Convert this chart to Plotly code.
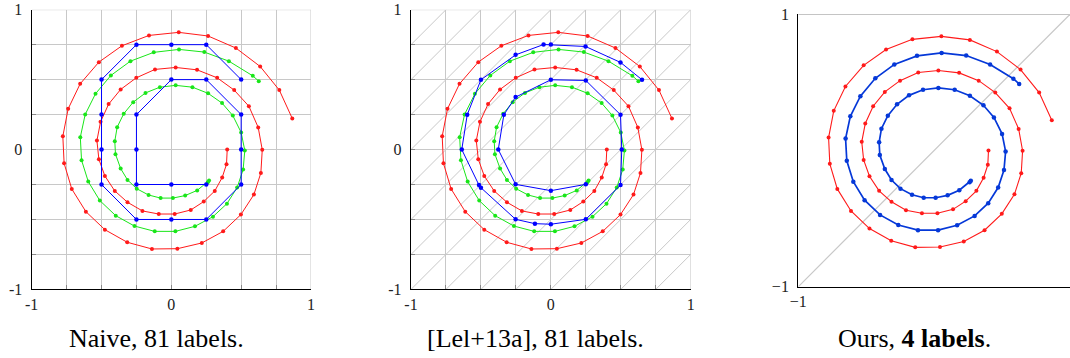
import plotly.graph_objects as go

# ---------------- data ----------------
red_x = [0.866, 0.773, 0.636, 0.462, 0.263, 0.053, -0.160, -0.354, -0.519, -0.653,
         -0.739, -0.777, -0.768, -0.713, -0.612, -0.476, -0.316, -0.139, 0.043, 0.218,
         0.371, 0.498, 0.591, 0.641, 0.651, 0.622, 0.555, 0.450, 0.328, 0.184,
         0.031, -0.117, -0.251, -0.363, -0.449, -0.507, -0.533, -0.519, -0.476, -0.405,
         -0.314, -0.207, -0.090, 0.024, 0.139, 0.232, 0.311, 0.364, 0.395, 0.400]
red_y = [0.222, 0.425, 0.594, 0.726, 0.812, 0.838, 0.816, 0.742, 0.625, 0.470,
         0.291, 0.095, -0.098, -0.282, -0.444, -0.573, -0.663, -0.711, -0.709, -0.668,
         -0.585, -0.465, -0.322, -0.167, -0.002, 0.158, 0.310, 0.425, 0.513, 0.570,
         0.587, 0.573, 0.513, 0.430, 0.325, 0.198, 0.064, -0.069, -0.189, -0.296,
         -0.377, -0.439, -0.461, -0.461, -0.432, -0.372, -0.296, -0.200, -0.105, 0.000]

green_x = [0.626, 0.583, 0.412, 0.236, 0.055, -0.126, -0.293, -0.433, -0.543, -0.617,
           -0.652, -0.643, -0.595, -0.512, -0.398, -0.264, -0.119, 0.029, 0.169, 0.298,
           0.398, 0.471, 0.514, 0.526, 0.500, 0.440, 0.363, 0.263, 0.151, 0.031,
           -0.082, -0.185, -0.273, -0.341, -0.388, -0.405, -0.400, -0.363, -0.314, -0.248,
           -0.163, -0.077, 0.011, 0.099, 0.185, 0.261, 0.270]
green_y = [0.489, 0.527, 0.632, 0.697, 0.716, 0.695, 0.632, 0.530, 0.399, 0.251,
           0.088, -0.076, -0.229, -0.365, -0.473, -0.547, -0.585, -0.585, -0.549, -0.480,
           -0.387, -0.272, -0.143, -0.007, 0.122, 0.243, 0.332, 0.402, 0.446, 0.459,
           0.446, 0.405, 0.339, 0.256, 0.160, 0.060, -0.033, -0.136, -0.217, -0.280,
           -0.325, -0.347, -0.347, -0.329, -0.292, -0.233, -0.222]

naive_x = [0.5, 0.25, 0.0, -0.25, -0.5, -0.5, -0.5, -0.5, -0.25, 0.0, 0.25,
           0.5, 0.5, 0.5, 0.25, 0.0, -0.25, -0.25, -0.25, 0.0, 0.25]
naive_y = [0.5, 0.75, 0.75, 0.75, 0.5, 0.25, 0.0, -0.25, -0.5, -0.5, -0.5,
           -0.25, 0.0, 0.25, 0.5, 0.5, 0.25, 0.0, -0.25, -0.25, -0.25]

lel_x = [0.652, 0.498, 0.248, 0.0, -0.052, -0.252, -0.5, -0.598, -0.637, -0.514,
         -0.5, -0.252, -0.114, 0.0, 0.25, 0.498, 0.507, 0.498, 0.25, 0.0,
         -0.252, -0.336, -0.376, -0.252, 0.0, 0.25]
lel_y = [0.499, 0.623, 0.737, 0.751, 0.751, 0.677, 0.499, 0.249, 0.0, -0.254,
         -0.273, -0.499, -0.530, -0.534, -0.499, -0.254, 0.0, 0.249, 0.494, 0.499,
         0.375, 0.249, 0.0, -0.249, -0.294, -0.249]

grid_vals = [-1, -0.75, -0.5, -0.25, 0, 0.25, 0.5, 0.75, 1]
grid_text = ["-1", "", "", "", "0", "", "", "", "1"]
ours_vals = [-1, 1]
ours_text = ["\u22121", "1"]
diag_offsets = [-1.75, -1.5, -1.25, -1.0, -0.75, -0.5, -0.25, 0.0,
                0.25, 0.5, 0.75, 1.0, 1.25, 1.5, 1.75]
captions = ["Naive, 81 labels.", "[Lel+13a], 81 labels.", "Ours, <b>4 labels</b>."]

# ---------------- figure ----------------
W, H = 1070, 358
RED = "#ff1a1a"
GREEN = "#19e619"
BLUE = "#0000ff"
BLUE3 = "#0538d8"
GRID = "#c8c8c8"
SERIF = "Liberation Serif, Times New Roman, serif"

fig = go.Figure()


def line_trace(x, y, color, lw, ms, xa, ya):
    fig.add_trace(go.Scatter(
        x=x, y=y, mode="lines+markers" if ms else "lines",
        line=dict(color=color, width=lw),
        marker=dict(color=color, size=ms, line=dict(width=0)),
        xaxis=xa, yaxis=ya, showlegend=False, hoverinfo="skip"))


# diagonal grid for panel 2 (lines y = x + c inside the square)
dx, dy = [], []
for c in diag_offsets:
    if c >= 0:
        dx += [-1, 1 - c, None]
        dy += [-1 + c, 1, None]
    else:
        dx += [-1 - c, 1, None]
        dy += [-1, 1 + c, None]
line_trace(dx, dy, GRID, 1, 0, "x2", "y2")
# diagonal for panel 3
line_trace([-1, 1], [-1, 1], GRID, 1.2, 0, "x3", "y3")

# panel 1
line_trace(red_x, red_y, RED, 1, 4, "x", "y")
line_trace(green_x, green_y, GREEN, 1, 4, "x", "y")
line_trace(naive_x, naive_y, BLUE, 1, 4.5, "x", "y")
# panel 2
line_trace(red_x, red_y, RED, 1, 4, "x2", "y2")
line_trace(green_x, green_y, GREEN, 1, 4, "x2", "y2")
line_trace(lel_x, lel_y, BLUE, 1, 4.5, "x2", "y2")
# panel 3
line_trace(red_x, red_y, RED, 1.1, 4, "x3", "y3")
line_trace(green_x, green_y, BLUE3, 1.7, 4.5, "x3", "y3")

tickfont = dict(family=SERIF, size=16, color="#222")


def axis(domain, vals, text, grid, standoff):
    return dict(domain=domain, range=[-1, 1], autorange=False, automargin=False,
                tickmode="array", tickvals=vals, ticktext=text,
                showgrid=grid, gridcolor=GRID, gridwidth=1,
                zeroline=False, showline=True, linecolor="black", linewidth=1.4,
                ticks="inside", ticklen=4, tickcolor="#888", tickwidth=1,
                tickfont=tickfont, ticklabelstandoff=standoff, fixedrange=True)


xd1 = [31.7 / W, 311.0 / W]
xd2 = [411.0 / W, 690.7 / W]
xd3 = [798.3 / W, 1.0]
yd12 = [1 - 289.4 / H, 1 - 9.7 / H]
yd3 = [1 - 286.7 / H, 1 - 14.3 / H]

fig.update_layout(
    template="none",
    width=W, height=H, margin=dict(l=0, r=0, t=0, b=0, autoexpand=False),
    paper_bgcolor="white", plot_bgcolor="white",
    xaxis=dict(axis(xd1, grid_vals, grid_text, True, 0), anchor="y"),
    yaxis=dict(axis(yd12, grid_vals, grid_text, True, 5), anchor="x"),
    xaxis2=dict(axis(xd2, grid_vals, grid_text, True, 0), anchor="y2"),
    yaxis2=dict(axis(yd12, grid_vals, grid_text, True, 5), anchor="x2"),
    xaxis3=dict(axis(xd3, ours_vals, ours_text, False, 0), anchor="y3"),
    yaxis3=dict(axis(yd3, ours_vals, ours_text, False, 5), anchor="x3"),
)

# gray top / right borders
shapes = []
for xa, ya in [("x", "y"), ("x2", "y2")]:
    shapes.append(dict(type="line", xref=xa, yref=ya, x0=-1, x1=1, y0=1, y1=1,
                       line=dict(color=GRID, width=1), layer="below"))
    shapes.append(dict(type="line", xref=xa, yref=ya, x0=1, x1=1, y0=-1, y1=1,
                       line=dict(color=GRID, width=1), layer="below"))
shapes.append(dict(type="line", xref="x3", yref="y3", x0=-1, x1=1, y0=1, y1=1,
                   line=dict(color="#b0b0b0", width=1.2), layer="below"))
fig.update_layout(shapes=shapes)

cap_x = [156.5, 535.0, 914.0]
for cx, txt in zip(cap_x, captions):
    fig.add_annotation(x=cx / W, y=1 - 338 / H, xref="paper", yref="paper",
                       text=txt, showarrow=False, xanchor="center", yanchor="middle",
                       font=dict(family=SERIF, size=26, color="black"))

fig.write_html("out.html")
